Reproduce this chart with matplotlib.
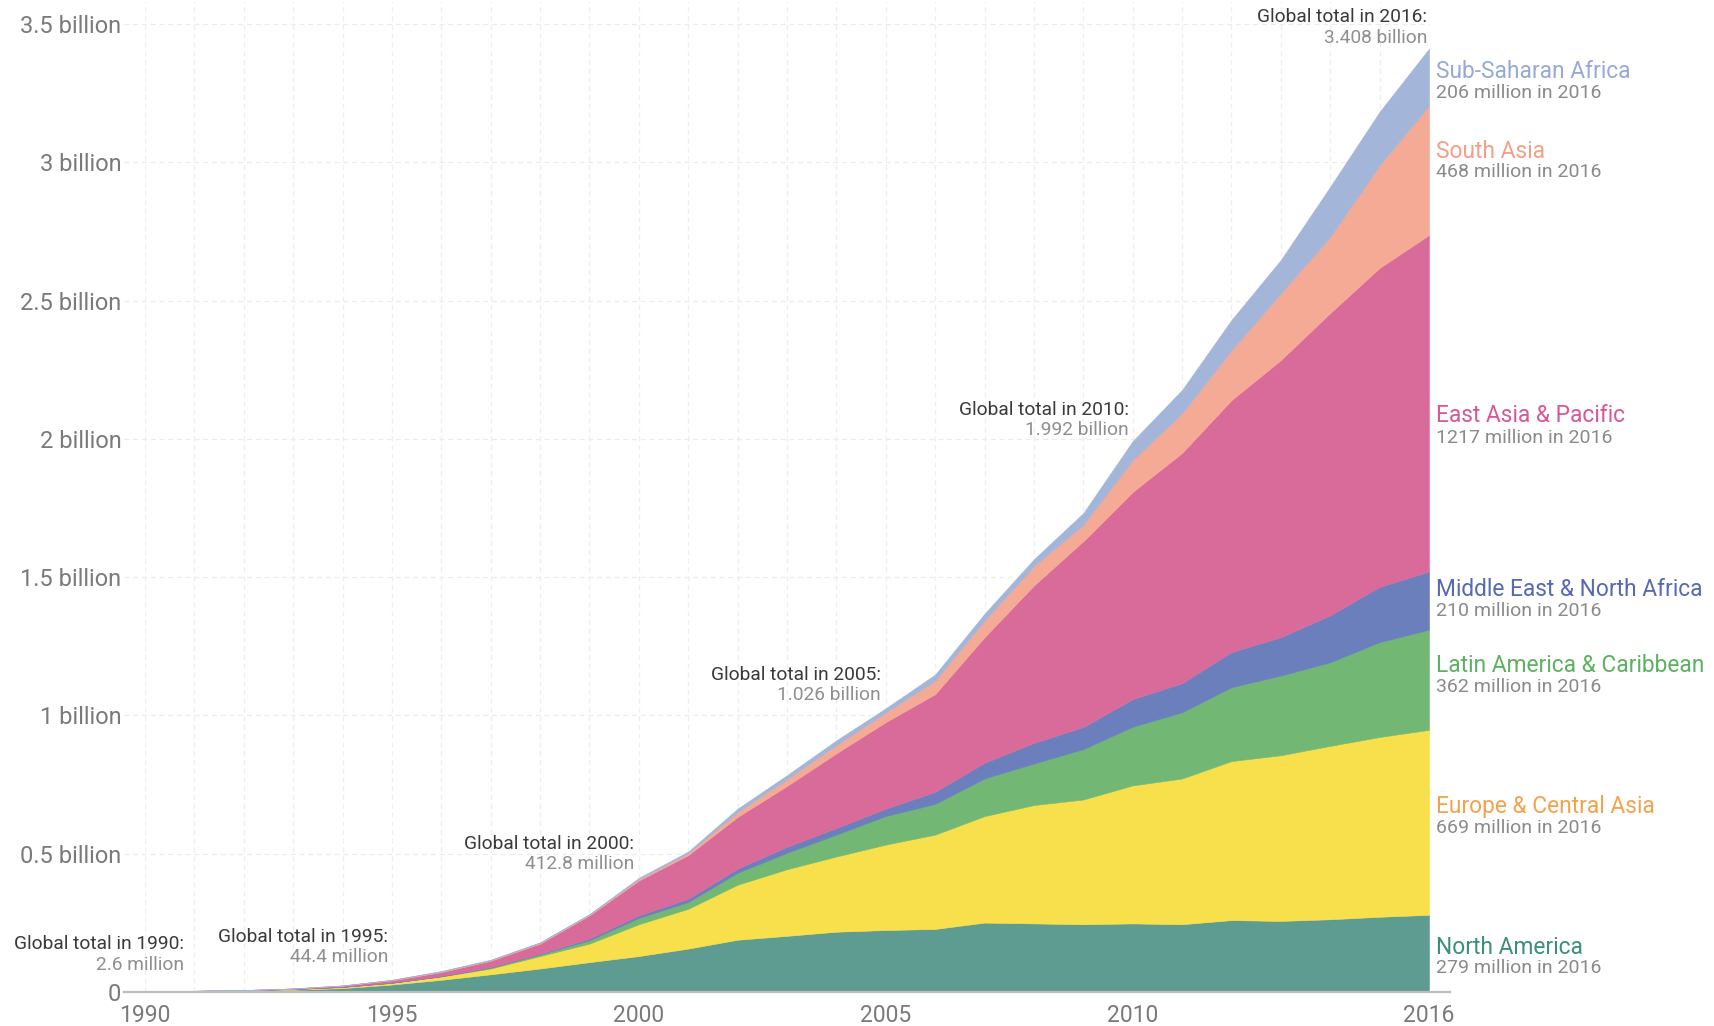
import matplotlib.pyplot as plt
import numpy as np

plt.rcParams['font.family'] = ['Roboto', 'DejaVu Sans']

# internet users by region, millions
years = list(range(1990, 2017))
north_america = [2.0, 3.5, 5.5, 8, 14, 27, 44, 64, 85, 108, 130, 157, 189, 203, 218,
                 224, 228, 251, 248, 245, 248, 245, 260, 257, 263, 272, 279]
europe_central_asia = [0.3, 0.5, 1.0, 2.5, 4, 6, 12, 21, 45, 67, 115, 144, 199, 241, 272,
                       309, 341, 385, 428, 451, 499, 527, 575, 599, 627, 650, 669]
latin_america = [0.05, 0.1, 0.1, 0.2, 0.5, 0.5, 1, 3, 6, 12, 23, 24, 43, 59, 79,
                 103, 111, 136, 150, 182, 212, 239, 267, 288, 302, 343, 362]
middle_east = [0.05, 0.1, 0.1, 0.1, 0.2, 0.5, 1, 2, 3, 6, 9, 12, 15, 22, 24,
               27, 44, 57, 75, 80, 100, 106, 127, 139, 170, 200, 210]
east_asia = [0.1, 0.2, 0.3, 1.7, 4.3, 8, 14, 23, 36, 84, 126, 158, 187, 220, 270,
             313, 353, 454, 569, 672, 749, 832, 911, 1002, 1093, 1153, 1217]
south_asia = [0.05, 0.05, 0.1, 0.2, 0.5, 1.5, 2, 2, 3, 3, 5, 7, 18, 25, 30,
              35, 49, 61, 70, 60, 116, 144, 181, 242, 276, 372, 468]
sub_saharan = [0.05, 0.05, 0.1, 0.3, 0.5, 0.9, 2, 2, 2, 2, 4.8, 6, 12, 14, 17,
               15, 22, 24, 25, 42, 68, 84, 109, 120, 181, 193, 206]

regions = ['North America', 'Europe & Central Asia', 'Latin America & Caribbean',
           'Middle East & North Africa', 'East Asia & Pacific', 'South Asia',
           'Sub-Saharan Africa']
latest = [279, 669, 362, 210, 1217, 468, 206]
fill_colors = ['#5e9b90', '#f7e04b', '#72b874', '#6c7fbd', '#d96b9a', '#f4aa94', '#a3b5d9']
label_colors = ['#3a9078', '#f5a24e', '#5cb161', '#5769b6', '#d8579a', '#f4a088', '#95aad8']

totals_years = [1990, 1995, 2000, 2005, 2010, 2016]
totals_text = ['2.6 million', '44.4 million', '412.8 million', '1.026 billion',
               '1.992 billion', '3.408 billion']

series = [north_america, europe_central_asia, latin_america, middle_east,
          east_asia, south_asia, sub_saharan]
series_bn = [np.array(s) / 1000 for s in series]

fig = plt.figure(figsize=(17.14, 10.26), dpi=100)
# pixel layout of the reference: 1990 at x=145, 2016 at x=1429, zero at y=992
px_per_bn = (992 - 24) / 3.5
ymax = 3.58
ax = fig.add_axes([145 / 1714, 34 / 1026, 1284 / 1714, ymax * px_per_bn / 1026])
ax.set_xlim(1990, 2016)
ax.set_ylim(0, ymax)

for s in ax.spines.values():
    s.set_visible(False)

# grid
for yr in years:
    ax.axvline(yr, color='#efefef', lw=0.9, ls=(0, (4, 3)), zorder=0)
for v in np.arange(0.5, 3.51, 0.5):
    ax.axhline(v, xmin=-0.016, xmax=1, color='#ececec', lw=0.9, ls=(0, (4, 3)),
               zorder=0, clip_on=False)

ax.stackplot(years, *series_bn, colors=fill_colors, edgecolor='face',
             linewidth=0.4, zorder=2)

ax.axhline(0, xmin=-0.016, xmax=1.016, color='#bdbdbd', lw=1.6, zorder=3, clip_on=False)

yticks = [0, 0.5, 1, 1.5, 2, 2.5, 3, 3.5]
ax.set_yticks(yticks)
ax.set_yticklabels(['0', '0.5 billion', '1 billion', '1.5 billion', '2 billion',
                    '2.5 billion', '3 billion', '3.5 billion'])
ax.set_xticks(totals_years)
ax.set_xticklabels([str(y) for y in totals_years])
ax.tick_params(axis='y', length=0, pad=17, labelsize=17, labelcolor='#7a7a7a')
ax.tick_params(axis='x', length=0, pad=9, labelsize=16.5, labelcolor='#7a7a7a')


def px_to_year(px):
    return 1990 + (px - 145) / (1284 / 26)


def py_to_val(py):
    return (992 - py) / px_per_bn


# global total annotations (right edge x pixel, line centres y pixel)
ann_pos = [(184, 944, 965), (388, 937, 957), (634, 844, 864),
           (881, 675, 695), (1129, 410, 430), (1427, 17, 38)]
for yr, txt, (rx, y1, y2) in zip(totals_years, totals_text, ann_pos):
    ax.text(px_to_year(rx), py_to_val(y1), f'Global total in {yr}:', ha='right',
            va='center', fontsize=13.8, color='#3a3a3a', clip_on=False)
    ax.text(px_to_year(rx), py_to_val(y2), txt, ha='right', va='center',
            fontsize=13.8, color='#8f8f8f', clip_on=False)

# region labels at right
label_pos = [(948, 968), (807, 828), (666, 687), (590, 611), (416, 438),
             (152, 172), (72, 93)]
for name, val, col, (y1, y2) in zip(regions, latest, label_colors, label_pos):
    ax.text(px_to_year(1436), py_to_val(y1), name, ha='left', va='center',
            fontsize=16.4, color=col, clip_on=False)
    ax.text(px_to_year(1436), py_to_val(y2), f'{val} million in 2016', ha='left',
            va='center', fontsize=14, color='#8a8a8a', clip_on=False)

fig.savefig('out.png', dpi=100, facecolor='white')
